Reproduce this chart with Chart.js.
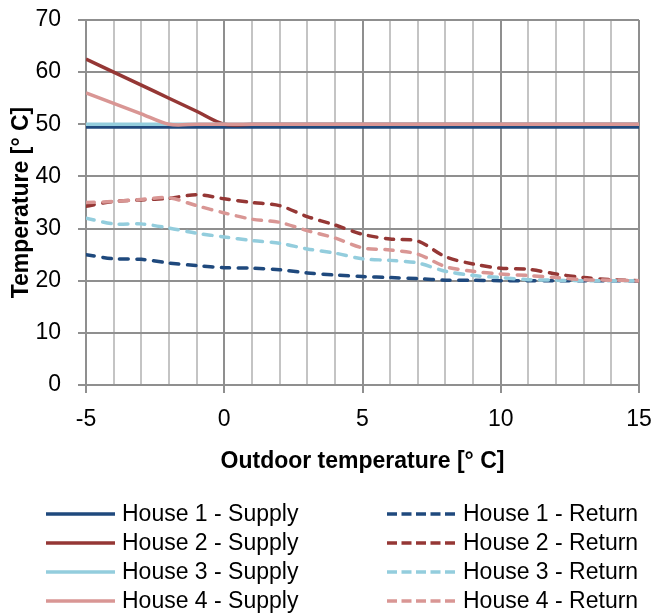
<!DOCTYPE html>
<html>
<head>
<meta charset="utf-8">
<script src="https://cdn.jsdelivr.net/npm/chart.js@4.4.1/dist/chart.umd.min.js"></script>
<style>
  html, body { margin: 0; padding: 0; background: #fff; }
  #wrap { width: 652px; height: 615px; }
</style>
</head>
<body>
<div id="wrap"><canvas id="chart" width="652" height="615"></canvas></div>
<script>
// outdoor temperature, one point per degree
const outdoorTemps = [-5, -4, -3, -2, -1, 0, 1, 2, 3, 4, 5, 6, 7, 8, 9, 10, 11, 12, 13, 14, 15];

const house1Supply = [49.5, 49.5, 49.5, 49.5, 49.5, 49.5, 49.5, 49.5, 49.5, 49.5, 49.5, 49.5, 49.5, 49.5, 49.5, 49.5, 49.5, 49.5, 49.5, 49.5, 49.5];
const house2Supply = [62.5, 60, 57.5, 55, 52.5, 50, 50, 50, 50, 50, 50, 50, 50, 50, 50, 50, 50, 50, 50, 50, 50];
const house3Supply = [50, 50, 50, 50, 50, 50, 50, 50, 50, 50, 50, 50, 50, 50, 50, 50, 50, 50, 50, 50, 50];
const house4Supply = [56, 54, 52, 50, 50, 50, 50, 50, 50, 50, 50, 50, 50, 50, 50, 50, 50, 50, 50, 50, 50];

const house1Return = [25.0, 24.2, 24.1, 23.4, 22.9, 22.5, 22.4, 22.1, 21.5, 21.1, 20.8, 20.6, 20.4, 20.1, 20.1, 20.0, 20.0, 20.0, 20.0, 20.0, 20.0];
const house2Return = [34.3, 35.2, 35.5, 35.8, 36.5, 35.7, 35.0, 34.4, 32.3, 30.7, 28.9, 28.0, 27.6, 24.6, 23.2, 22.4, 22.2, 21.3, 20.6, 20.2, 20.0];
const house3Return = [32.0, 30.9, 30.9, 30.1, 29.1, 28.4, 27.7, 27.2, 26.1, 25.3, 24.2, 23.9, 23.4, 21.8, 21.0, 20.6, 20.2, 20.1, 20.0, 20.0, 20.0];
const house4Return = [35.0, 35.2, 35.6, 35.9, 34.4, 33.0, 31.8, 31.2, 29.6, 28.2, 26.3, 25.9, 25.1, 22.7, 21.8, 21.3, 21.0, 20.6, 20.2, 20.1, 20.0];

const COLORS = ['#1F497D', '#953735', '#93CDDD', '#D99694'];
const DASH = [8.5, 8.5];
const LEGEND_DASH = [10, 4.5];
const MAJOR = '#8f8f8f';
const MINOR = '#c4c4c4';

const toPoints = (vals) => vals.map((v, i) => ({ x: outdoorTemps[i], y: v }));

const series = [
  { label: 'House 1 - Supply', data: house1Supply, color: COLORS[0], dashed: false },
  { label: 'House 2 - Supply', data: house2Supply, color: COLORS[1], dashed: false },
  { label: 'House 3 - Supply', data: house3Supply, color: COLORS[2], dashed: false },
  { label: 'House 4 - Supply', data: house4Supply, color: COLORS[3], dashed: false },
  { label: 'House 1 - Return', data: house1Return, color: COLORS[0], dashed: true },
  { label: 'House 2 - Return', data: house2Return, color: COLORS[1], dashed: true },
  { label: 'House 3 - Return', data: house3Return, color: COLORS[2], dashed: true },
  { label: 'House 4 - Return', data: house4Return, color: COLORS[3], dashed: true }
];

// two-column legend under the x axis title, like the Excel one
const twoColLegend = {
  id: 'twoColLegend',
  afterDraw(chart) {
    const ctx = chart.ctx;
    const lineLen = 69, gap = 7, colStep = 341, rowStep = 29;
    const left = 46, top = chart.height - 101;
    ctx.save();
    ctx.font = '23px "Liberation Sans", Arial, sans-serif';
    ctx.textBaseline = 'middle';
    ctx.fillStyle = '#000';
    chart.data.datasets.forEach((ds, i) => {
      const x = left + Math.floor(i / 4) * colStep;
      const y = top + (i % 4) * rowStep;
      ctx.beginPath();
      ctx.setLineDash(series[i].dashed ? LEGEND_DASH : []);
      ctx.strokeStyle = ds.borderColor;
      ctx.lineWidth = 3.5;
      ctx.moveTo(x, y);
      ctx.lineTo(x + lineLen, y);
      ctx.stroke();
      ctx.setLineDash([]);
      ctx.fillText(ds.label, x + lineLen + gap, y + 1);
    });
    ctx.restore();
  }
};

Chart.defaults.font.family = '"Liberation Sans", Arial, sans-serif';
Chart.defaults.font.size = 23;
Chart.defaults.color = '#000';

new Chart(document.getElementById('chart'), {
  type: 'line',
  data: {
    datasets: series.map((s, i) => ({
      label: s.label,
      data: toPoints(s.data),
      borderColor: s.color,
      backgroundColor: s.color,
      borderWidth: 3.5,
      borderDash: s.dashed ? DASH : [],
      borderCapStyle: s.dashed ? 'round' : 'butt',
      pointRadius: 0,
      tension: 0.3,
      fill: false,
      order: series.length - i
    }))
  },
  options: {
    responsive: false,
    animation: false,
    devicePixelRatio: 1,
    layout: { padding: { top: 20, right: 13, bottom: 135, left: 0 } },
    plugins: {
      legend: { display: false },
      tooltip: { enabled: false }
    },
    scales: {
      x: {
        type: 'linear',
        min: -5,
        max: 15,
        afterFit: (s) => { s.height = 95; s.paddingLeft = 0; s.paddingRight = 0; },
        ticks: {
          stepSize: 1,
          autoSkip: false,
          maxRotation: 0,
          padding: 13,
          callback: (v) => (v % 5 === 0 ? String(v) : '')
        },
        grid: {
          lineWidth: 2,
          tickLength: 8,
          color: (c) => (c.tick && c.tick.value % 5 === 0 ? MAJOR : MINOR),
          tickColor: (c) => (c.tick && c.tick.value % 5 === 0 ? MAJOR : 'rgba(0,0,0,0)')
        },
        border: { color: MAJOR, width: 2 },
        title: {
          display: true,
          text: 'Outdoor temperature [° C]',
          font: { weight: 'bold', size: 23 },
          padding: { top: 0, bottom: 5 }
        }
      },
      y: {
        min: 0,
        max: 70,
        afterFit: (s) => { s.width = 86; s.paddingTop = 0; s.paddingBottom = 0; },
        ticks: { stepSize: 10, padding: 17 },
        grid: { lineWidth: 2, tickLength: 8, color: MAJOR, tickColor: MAJOR },
        border: { color: MAJOR, width: 2 },
        title: {
          display: true,
          text: 'Temperature [° C]',
          font: { weight: 'bold', size: 23 },
          padding: { top: 8, bottom: 0 }
        }
      }
    }
  },
  plugins: [twoColLegend]
});
</script>
</body>
</html>
